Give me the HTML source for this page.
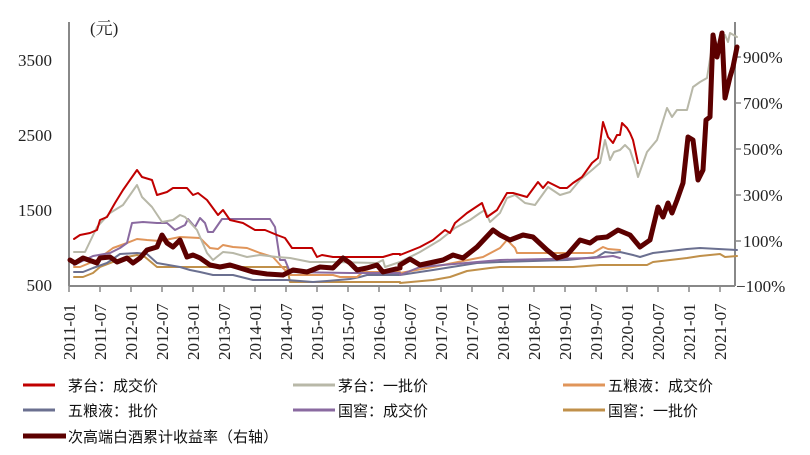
<!DOCTYPE html>
<html><head><meta charset="utf-8"><style>
body{margin:0;background:#fff;}
svg{display:block;}
.ax{font-family:"Liberation Serif","Noto Serif CJK SC",serif;font-size:17px;fill:#222;}
.lg{font-family:"Liberation Sans","Noto Sans CJK SC",sans-serif;font-size:15px;fill:#111;}
polyline{fill:none;stroke-linejoin:round;stroke-linecap:round;}
</style></head><body>
<svg width="810" height="455" viewBox="0 0 810 455" xmlns="http://www.w3.org/2000/svg">
<line x1="69" y1="22" x2="69" y2="286" stroke="#888" stroke-width="2"/>
<line x1="735" y1="22" x2="735" y2="286" stroke="#888" stroke-width="2"/>
<line x1="69" y1="286" x2="735" y2="286" stroke="#888" stroke-width="2"/>
<g stroke="#888" stroke-width="1.5">
<line x1="69" y1="286" x2="69" y2="292"/><line x1="100" y1="286" x2="100" y2="292"/><line x1="131" y1="286" x2="131" y2="292"/><line x1="162" y1="286" x2="162" y2="292"/><line x1="193" y1="286" x2="193" y2="292"/><line x1="224" y1="286" x2="224" y2="292"/><line x1="255" y1="286" x2="255" y2="292"/><line x1="286" y1="286" x2="286" y2="292"/><line x1="317" y1="286" x2="317" y2="292"/><line x1="348" y1="286" x2="348" y2="292"/><line x1="379" y1="286" x2="379" y2="292"/><line x1="410" y1="286" x2="410" y2="292"/><line x1="441" y1="286" x2="441" y2="292"/><line x1="472" y1="286" x2="472" y2="292"/><line x1="503" y1="286" x2="503" y2="292"/><line x1="534" y1="286" x2="534" y2="292"/><line x1="565" y1="286" x2="565" y2="292"/><line x1="596" y1="286" x2="596" y2="292"/><line x1="627" y1="286" x2="627" y2="292"/><line x1="658" y1="286" x2="658" y2="292"/><line x1="689" y1="286" x2="689" y2="292"/><line x1="720" y1="286" x2="720" y2="292"/>
<line x1="735" y1="57" x2="741" y2="57"/><line x1="735" y1="103" x2="741" y2="103"/><line x1="735" y1="149" x2="741" y2="149"/><line x1="735" y1="195" x2="741" y2="195"/><line x1="735" y1="241" x2="741" y2="241"/>
</g>
<g class="ax">
<text x="90" y="34">(元)</text>
<text x="52" y="66" text-anchor="end">3500</text>
<text x="52" y="141" text-anchor="end">2500</text>
<text x="52" y="216" text-anchor="end">1500</text>
<text x="52" y="291" text-anchor="end">500</text>
<text x="743" y="63">900%</text>
<text x="743" y="109">700%</text>
<text x="743" y="155">500%</text>
<text x="743" y="201">300%</text>
<text x="743" y="247">100%</text>
<text x="736" y="292">−100%</text>
</g>
<g class="ax">
<text transform="translate(75,360) rotate(-90)">2011-01</text>
<text transform="translate(106,360) rotate(-90)">2011-07</text>
<text transform="translate(137,360) rotate(-90)">2012-01</text>
<text transform="translate(168,360) rotate(-90)">2012-07</text>
<text transform="translate(199,360) rotate(-90)">2013-01</text>
<text transform="translate(230,360) rotate(-90)">2013-07</text>
<text transform="translate(261,360) rotate(-90)">2014-01</text>
<text transform="translate(292,360) rotate(-90)">2014-07</text>
<text transform="translate(323,360) rotate(-90)">2015-01</text>
<text transform="translate(354,360) rotate(-90)">2015-07</text>
<text transform="translate(385,360) rotate(-90)">2016-01</text>
<text transform="translate(416,360) rotate(-90)">2016-07</text>
<text transform="translate(447,360) rotate(-90)">2017-01</text>
<text transform="translate(478,360) rotate(-90)">2017-07</text>
<text transform="translate(509,360) rotate(-90)">2018-01</text>
<text transform="translate(540,360) rotate(-90)">2018-07</text>
<text transform="translate(571,360) rotate(-90)">2019-01</text>
<text transform="translate(602,360) rotate(-90)">2019-07</text>
<text transform="translate(633,360) rotate(-90)">2020-01</text>
<text transform="translate(664,360) rotate(-90)">2020-07</text>
<text transform="translate(695,360) rotate(-90)">2021-01</text>
<text transform="translate(726,360) rotate(-90)">2021-07</text>
</g>
<polyline stroke="#c0904a" stroke-width="2" points="74,277 83,277 93,273 100,267 113,262 127,257 137,255 145,257 157,267 287,267 290,282 400,282 400,283 433,280 450,277 467,271 490,268 500,267 573,267 600,265 647,265 653,262 687,258 700,256 710,255 720,254 725,257 737,256"/>
<polyline stroke="#6b7090" stroke-width="2" points="74,272 83,272 93,268 107,263 120,254 137,253 147,254 157,263 180,267 190,270 200,272 213,275 233,275 253,280 287,280 313,282 327,281 350,279 360,277 367,275 400,275 433,270 477,263 500,262 567,260 597,257 605,252 613,253 620,252 633,255 640,257 653,253 687,249 700,248 737,250"/>
<polyline stroke="#e0955a" stroke-width="2" points="74,267 80,267 97,260 113,248 127,243 137,239 147,240 160,241 180,237 200,238 210,248 218,249 223,245 233,247 247,248 260,253 273,257 282,267 290,275 333,275 340,277 357,277 363,272 400,272 400,273 433,267 483,257 500,248 507,240 515,248 517,253 593,253 603,247 608,249 620,250"/>
<polyline stroke="#8a6aa0" stroke-width="2" points="74,265 93,256 110,253 120,248 127,243 132,223 143,222 157,223 167,223 175,230 185,225 188,219 195,227 200,218 205,223 208,232 213,232 222,219 270,219 275,227 280,260 285,260 290,272 350,273 400,273 400,275 420,267 500,260 593,258 613,256 620,258"/>
<polyline stroke="#b8b8a8" stroke-width="2" points="74,252 85,252 97,227 110,213 123,205 137,185 142,197 152,207 162,222 173,220 180,215 185,217 197,230 207,253 213,260 223,252 233,253 247,257 260,255 277,257 290,258 310,262 333,262 377,263 383,260 385,267 400,262 420,252 440,240 455,228 470,220 480,213 485,210 490,222 500,213 507,198 515,195 525,203 535,205 548,187 560,195 570,192 580,180 592,170 600,163 605,140 610,160 614,152 620,150 625,145 630,150 635,165 638,177 647,152 657,140 667,108 672,117 677,110 687,110 693,87 700,82 707,78 713,40 720,50 725,35 728,42 730,33 737,37"/>
<polyline stroke="#c00000" stroke-width="2" points="74,239 80,235 90,233 97,230 100,220 107,217 115,203 123,190 137,170 142,177 152,180 157,195 167,192 173,188 187,188 193,195 198,193 207,200 218,215 223,210 230,220 243,223 255,230 265,230 277,235 285,238 292,248 312,248 317,257 322,255 333,257 353,257 383,257 393,254 400,254 400,255 420,247 433,240 445,230 450,233 455,223 467,213 482,203 487,217 497,210 507,193 513,193 527,197 538,182 543,188 548,182 560,188 567,188 573,183 582,177 592,163 598,158 603,122 608,137 613,143 617,135 620,135 622,123 627,128 630,133 633,140 638,163"/>
<polyline stroke="#5c0000" stroke-width="5" points="70,260 75,263 83,258 97,263 100,258 110,257 117,262 127,258 133,263 140,258 147,250 157,247 162,235 167,243 173,247 180,240 187,257 193,255 200,258 210,265 220,267 230,265 240,268 253,272 267,274 283,275 293,270 307,272 320,267 333,268 343,258 350,263 357,270 367,268 377,265 383,272 400,268 400,265 410,259 420,265 443,260 453,255 463,258 477,247 493,230 500,235 510,240 523,235 533,237 547,250 557,258 567,255 580,240 590,243 597,238 607,237 618,230 630,235 640,247 650,240 658,207 663,217 668,203 672,213 677,200 683,183 688,137 693,140 698,180 703,170 706,120 710,117 713,35 717,57 722,33 725,98 730,77 733,67 737,47"/>
<g stroke-width="3">
<line x1="23" y1="385" x2="55" y2="385" stroke="#c00000"/>
<line x1="293" y1="385" x2="335" y2="385" stroke="#b8b8a8"/>
<line x1="563" y1="385" x2="605" y2="385" stroke="#e0955a"/>
<line x1="23" y1="410" x2="55" y2="410" stroke="#6b7090"/>
<line x1="293" y1="410" x2="335" y2="410" stroke="#8a6aa0"/>
<line x1="563" y1="410" x2="605" y2="410" stroke="#c0904a"/>
<line x1="23" y1="436" x2="66" y2="436" stroke="#5c0000" stroke-width="5"/>
</g>
<g class="lg">
<text x="68" y="391">茅台：成交价</text>
<text x="338" y="391">茅台：一批价</text>
<text x="608" y="391">五粮液：成交价</text>
<text x="68" y="416">五粮液：批价</text>
<text x="338" y="416">国窖：成交价</text>
<text x="608" y="416">国窖：一批价</text>
<text x="68" y="442">次高端白酒累计收益率（右轴）</text>
</g>
</svg>
</body></html>
